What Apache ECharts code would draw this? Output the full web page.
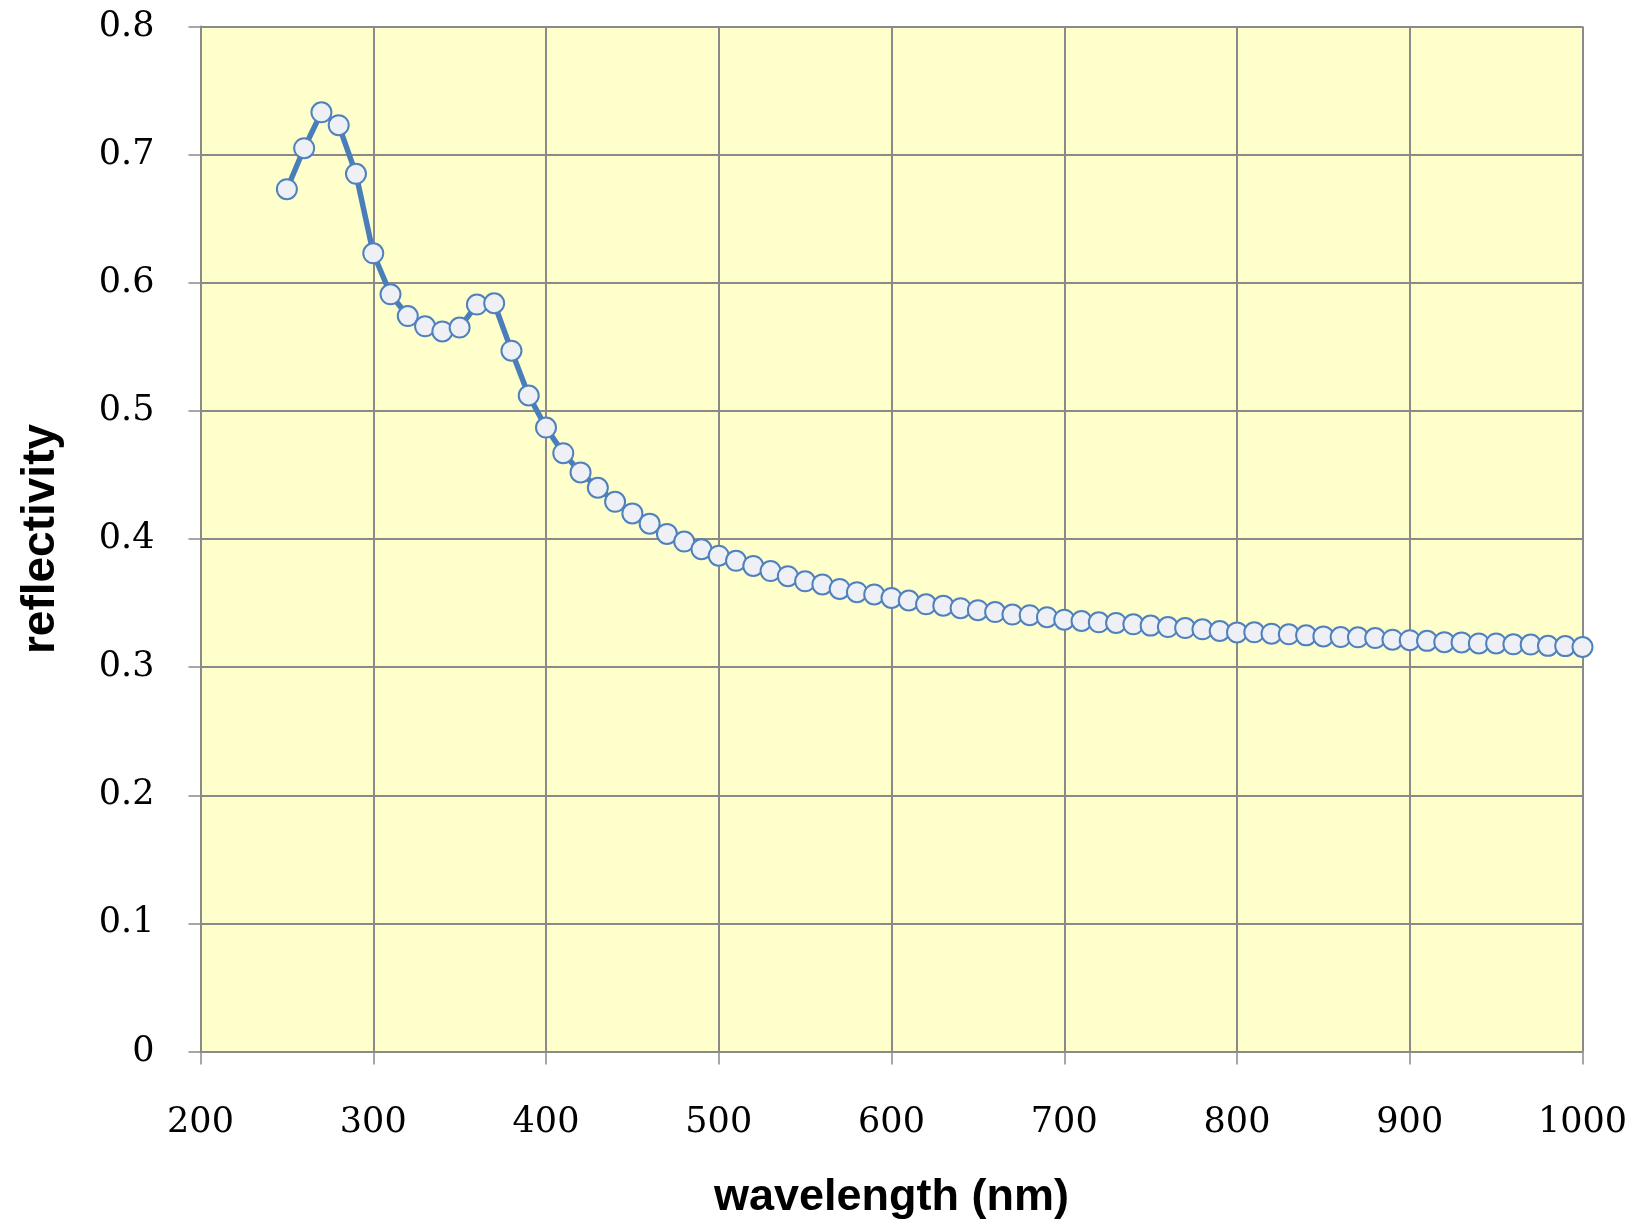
<!DOCTYPE html>
<html>
<head>
<meta charset="utf-8">
<script src="https://cdn.jsdelivr.net/npm/echarts@6/dist/echarts.min.js"></script>
<style>
html,body{margin:0;padding:0;background:#ffffff;}
#chart{width:1637px;height:1227px;}
</style>
</head>
<body>
<div id="chart"></div>
<script>
const wavelengths = [250,260,270,280,290,300,310,320,330,340,350,360,370,380,390,400,410,420,430,440,450,460,470,480,490,500,510,520,530,540,550,560,570,580,590,600,610,620,630,640,650,660,670,680,690,700,710,720,730,740,750,760,770,780,790,800,810,820,830,840,850,860,870,880,890,900,910,920,930,940,950,960,970,980,990,1000];
const reflectivity = [0.673,0.705,0.733,0.723,0.685,0.623,0.591,0.574,0.566,0.562,0.565,0.583,0.584,0.547,0.512,0.487,0.467,0.452,0.440,0.429,0.420,0.412,0.404,0.398,0.392,0.387,0.383,0.379,0.375,0.371,0.367,0.3645,0.361,0.3585,0.3567,0.354,0.352,0.349,0.348,0.346,0.3444,0.343,0.341,0.3405,0.339,0.337,0.336,0.335,0.3345,0.3334,0.3324,0.3313,0.3305,0.3295,0.3282,0.3271,0.3272,0.3261,0.3256,0.3248,0.324,0.3235,0.3233,0.3227,0.3214,0.321,0.3205,0.3195,0.3193,0.3185,0.3185,0.3178,0.3176,0.3166,0.3164,0.3157];
const xTitle = 'wavelength (nm)';
const yTitle = 'reflectivity';

const chart = echarts.init(document.getElementById('chart'), null, {renderer:'canvas'});
const pts = wavelengths.map((w,i)=>[w, reflectivity[i]]);
const gridColor = '#8a8a8a';
chart.setOption({
  animation:false,
  backgroundColor:'#ffffff',
  grid:{left:200.5, right:54.5, top:26.5, bottom:175.5, show:true, backgroundColor:'#ffffcc', borderWidth:0},
  xAxis:{
    type:'value', min:200, max:1000, interval:100,
    name:xTitle, nameLocation:'middle', nameGap:124,
    nameTextStyle:{fontFamily:'Liberation Sans', fontWeight:'bold', fontSize:45, color:'#000'},
    axisLine:{show:true, onZero:false, lineStyle:{color:gridColor, width:2}},
    axisTick:{show:true, length:13, lineStyle:{color:gridColor, width:1.5}},
    axisLabel:{margin:54, fontFamily:'DejaVu Serif', fontSize:35, color:'#000', formatter:v=>String(v)},
    splitLine:{show:true, lineStyle:{color:gridColor, width:2}}
  },
  yAxis:{
    type:'value', min:0, max:0.8, interval:0.1,
    name:yTitle, nameLocation:'middle', nameGap:136, nameRotate:90,
    nameTextStyle:{fontFamily:'Liberation Sans', fontWeight:'bold', fontSize:46, color:'#000'},
    axisLine:{show:true, lineStyle:{color:gridColor, width:2}},
    axisTick:{show:true, length:12, lineStyle:{color:gridColor, width:1.5}},
    axisLabel:{margin:46, fontFamily:'DejaVu Serif', fontSize:35, color:'#000'},
    splitLine:{show:true, lineStyle:{color:gridColor, width:2}}
  },
  series:[{
    type:'line',
    data:pts,
    symbol:'circle',
    symbolSize:20,
    showAllSymbol:true,
    lineStyle:{color:'#4a7ebb', width:5.5},
    itemStyle:{color:'#eef0f5', borderColor:'#4f81bd', borderWidth:2},
    z:3
  }]
});
</script>
</body>
</html>
